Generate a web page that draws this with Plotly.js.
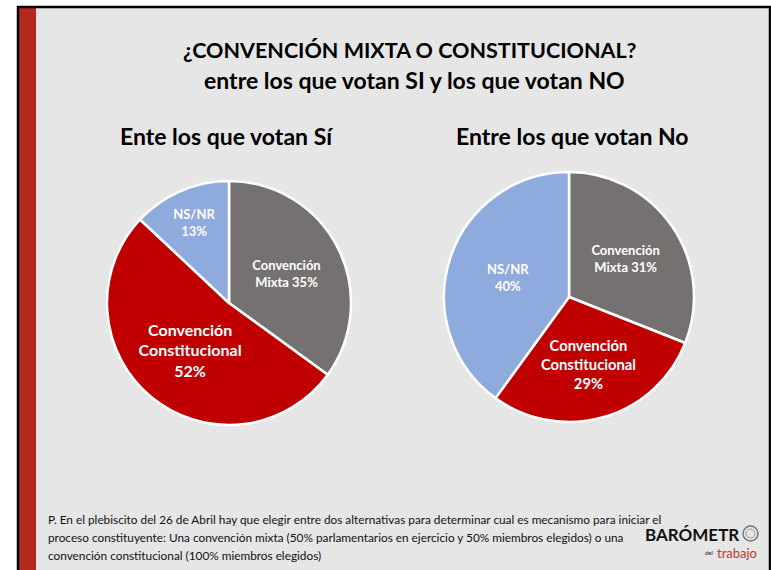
<!DOCTYPE html>
<html>
<head>
<meta charset="utf-8">
<script src="https://cdn.plot.ly/plotly-3.0.1.min.js"></script>
<style>html,body{margin:0;padding:0;background:#fff;}#chart{width:771px;height:570px;}</style>
</head>
<body>
<div id="chart"></div>
<script>
// ---- data ----
const categories = ["Convención Mixta", "Convención Constitucional", "NS/NR"];
const sliceLabelsSi = ["Convención<br>Mixta 35%", "Convención<br>Constitucional<br>52%", "NS/NR<br>13%"];
const sliceLabelsNo = ["Convención<br>Mixta 31%", "Convención<br>Constitucional<br>29%", "NS/NR<br>40%"];
const valuesSi = [35, 52, 13];
const valuesNo = [31, 29, 40];
const sliceColors = ["#767171", "#C00000", "#8FAADC"];
const titleLine1 = "¿CONVENCIÓN MIXTA O CONSTITUCIONAL?";
const titleLine2 = "entre los que votan SI y los que votan NO";
const subtitleSi = "Ente los que votan Sí";
const subtitleNo = "Entre los que votan No";
const footLines = [
  "P. En el plebiscito del 26 de Abril hay que elegir entre dos alternativas para determinar cual es mecanismo para iniciar el",
  "proceso constituyente: Una convención mixta (50% parlamentarios en ejercicio y 50% miembros elegidos) o una",
  "convención constitucional (100% miembros elegidos)"
];

const W = 771, H = 570;
const px = x => x / W;
const py = y => 1 - y / H;
const FONT = "Lato, 'Open Sans', sans-serif";

const pieCommon = {
  type: "pie",
  sort: false,
  direction: "clockwise",
  rotation: 0,
  hole: 0,
  textinfo: "text",
  textposition: "inside",
  insidetextorientation: "horizontal",
  marker: { colors: sliceColors, line: { color: "#FFFFFF", width: 2.5 } },
  showlegend: false,
  hoverinfo: "label+percent"
};

const traces = [
  Object.assign({}, pieCommon, {
    labels: categories, values: valuesSi, text: sliceLabelsSi,
    textfont: { family: FONT, color: "#FFFFFF", size: [13, 16, 13], weight: "bold" },
    domain: { x: [px(107), px(351)], y: [py(425), py(181)] }
  }),
  Object.assign({}, pieCommon, {
    labels: categories, values: valuesNo, text: sliceLabelsNo,
    textfont: { family: FONT, color: "#FFFFFF", size: [13, 16, 13], weight: "bold" },
    domain: { x: [px(444), px(694)], y: [py(422), py(172)] }
  })
];

const annotations = [
  { text: "<b>" + titleLine1 + "</b>", x: px(410), y: py(50), font: { family: FONT, size: 21.5, color: "#000" } },
  { text: "<b>" + titleLine2 + "</b>", x: px(414), y: py(80), font: { family: FONT, size: 23, color: "#000" } },
  { text: "<b>" + subtitleSi + "</b>", x: px(226), y: py(136), font: { family: FONT, size: 23, color: "#000" } },
  { text: "<b>" + subtitleNo + "</b>", x: px(572), y: py(136), font: { family: FONT, size: 23, color: "#000" } },
  // logo
  { text: "<b>BARÓMETR</b>", x: px(741), y: py(534), xanchor: "right", font: { family: FONT, size: 17, color: "#111" } },
  { text: "del", x: px(715), y: py(552), xanchor: "right", font: { family: FONT, size: 6, color: "#222" } },
  { text: "trabajo", x: px(737), y: py(553), font: { family: FONT, size: 13, color: "#C0392B" } }
].map(a => Object.assign({ xref: "paper", yref: "paper", showarrow: false, xanchor: "center", yanchor: "middle" }, a));

footLines.forEach((t, i) => {
  annotations.push({
    text: t, xref: "paper", yref: "paper", x: px(46), y: py(519 + i * 18),
    xanchor: "left", yanchor: "middle", showarrow: false,
    font: { family: FONT, size: 11.8, color: "#111" }
  });
});

const shapes = [
  // gray panel
  { type: "rect", xref: "paper", yref: "paper", x0: px(18), x1: px(770), y0: py(572), y1: py(7), fillcolor: "#E6E6E6", line: { width: 0 }, layer: "below" },
  // red strip
  { type: "rect", xref: "paper", yref: "paper", x0: px(19), x1: px(36), y0: py(572), y1: py(8), fillcolor: "#B3291D", line: { width: 0 }, layer: "below" },
  // frame
  { type: "rect", xref: "paper", yref: "paper", x0: px(18), x1: px(770), y0: py(575), y1: py(7), line: { color: "#000", width: 2.5 }, fillcolor: "rgba(0,0,0,0)", layer: "above" },
  // gauge "O" of logo
  { type: "circle", xref: "paper", yref: "paper", x0: px(743), x1: px(758), y0: py(541), y1: py(526), line: { color: "#777", width: 1.5 }, fillcolor: "rgba(0,0,0,0)", layer: "above" },
  { type: "circle", xref: "paper", yref: "paper", x0: px(746), x1: px(755), y0: py(538), y1: py(529), line: { color: "#999", width: 1 }, fillcolor: "rgba(0,0,0,0)", layer: "above" }
];

const layout = {
  width: W, height: H,
  margin: { l: 0, r: 0, t: 0, b: 0 },
  paper_bgcolor: "#FFFFFF",
  plot_bgcolor: "rgba(0,0,0,0)",
  showlegend: false,
  annotations: annotations,
  shapes: shapes
};

Plotly.newPlot("chart", traces, layout, { staticPlot: true, displayModeBar: false });
</script>
</body>
</html>
